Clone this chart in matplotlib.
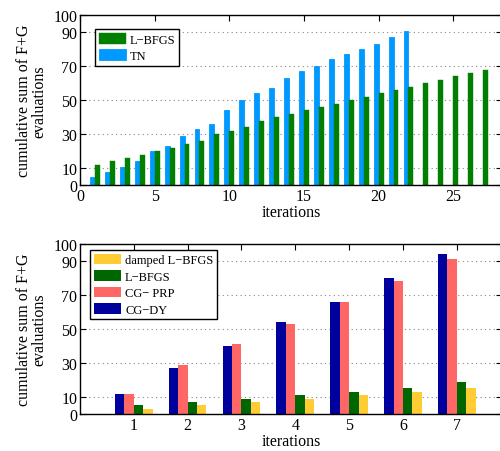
import numpy as np
import matplotlib
matplotlib.use('Agg')
import matplotlib.pyplot as plt

plt.rcParams['font.family'] = ['Liberation Serif', 'DejaVu Serif']

# top chart: F+G evaluations per iteration
iters_top = np.arange(1, 28)
tn = [5, 8, 11, 14, 20, 23, 29, 33, 36, 44, 50, 54, 57, 63, 67, 70, 74, 77, 80, 83, 87, 91,
      0, 0, 0, 0, 0]
lbfgs_top = [12, 14, 16, 18, 20, 22, 24, 26, 30, 32, 34, 38, 40, 42, 44, 46, 48, 50, 52, 54,
             56, 58, 60, 62, 64, 66, 68]

# bottom chart
iters_bot = np.arange(1, 8)
cg_dy = [12, 27, 40, 54, 66, 80, 94]
cg_prp = [12, 29, 41, 53, 66, 78, 91]
lbfgs_bot = [5, 7, 9, 11, 13, 15, 19]
damped = [3, 5, 7, 9, 11, 13, 15]

yticks = [0, 10, 30, 50, 70, 90, 100]

fig = plt.figure(figsize=(5.0, 4.52), dpi=100)
ax1 = fig.add_axes([0.16, 0.588, 0.845, 0.376])
ax2 = fig.add_axes([0.16, 0.082, 0.845, 0.376])


def style(ax):
    ax.set_ylim(0, 100)
    ax.set_yticks(yticks)
    ax.tick_params(direction='in', length=4, width=0.8, labelsize=11.5,
                   top=True, right=True, pad=2)
    ax.yaxis.grid(True, linestyle=(0, (1, 3)), color='#888888', linewidth=0.8)
    ax.set_axisbelow(True)
    for s in ax.spines.values():
        s.set_linewidth(1.0)
    ax.set_xlabel('iterations', fontsize=11.5, labelpad=0)
    ax.set_ylabel('cumulative sum of F+G\nevaluations', fontsize=11.5, labelpad=4,
                  linespacing=1.0)


def legend(ax, anchor):
    h, l = ax.get_legend_handles_labels()
    leg = ax.legend(h[::-1], l[::-1], loc='upper left', bbox_to_anchor=anchor, fontsize=9,
                    fancybox=False, edgecolor='black', framealpha=1, handlelength=2.2,
                    handleheight=0.95, borderpad=0.3, labelspacing=0.3, handletextpad=0.3,
                    borderaxespad=0)
    leg.get_frame().set_linewidth(1.0)


w = 0.33
ax1.bar(iters_top - w / 2, tn, w, color='#0099FF', edgecolor='#0099FF', linewidth=0.6,
        label='TN', zorder=2)
ax1.bar(iters_top + w / 2, lbfgs_top, w, color='#007F00', edgecolor='#007F00', linewidth=0.3,
        label='L\u2212BFGS', zorder=2)
ax1.set_xlim(0, 28.3)
ax1.set_xticks([0, 5, 10, 15, 20, 25])
style(ax1)
legend(ax1, (0.035, 0.918))

w2 = 0.175
ax2.bar(iters_bot - 1.5 * w2, cg_dy, w2, color='#00009C', label='CG\u2212DY', zorder=2)
ax2.bar(iters_bot - 0.5 * w2, cg_prp, w2, color='#FF6666', label='CG\u2212 PRP', zorder=2)
ax2.bar(iters_bot + 0.5 * w2, lbfgs_bot, w2, color='#006600', label='L\u2212BFGS', zorder=2)
ax2.bar(iters_bot + 1.5 * w2, damped, w2, color='#FFCC33', label='damped L\u2212BFGS', zorder=2)
ax2.set_xlim(0, 7.85)
ax2.set_xticks(iters_bot)
style(ax2)
legend(ax2, (0.024, 0.965))

fig.savefig('out.png', dpi=100)
